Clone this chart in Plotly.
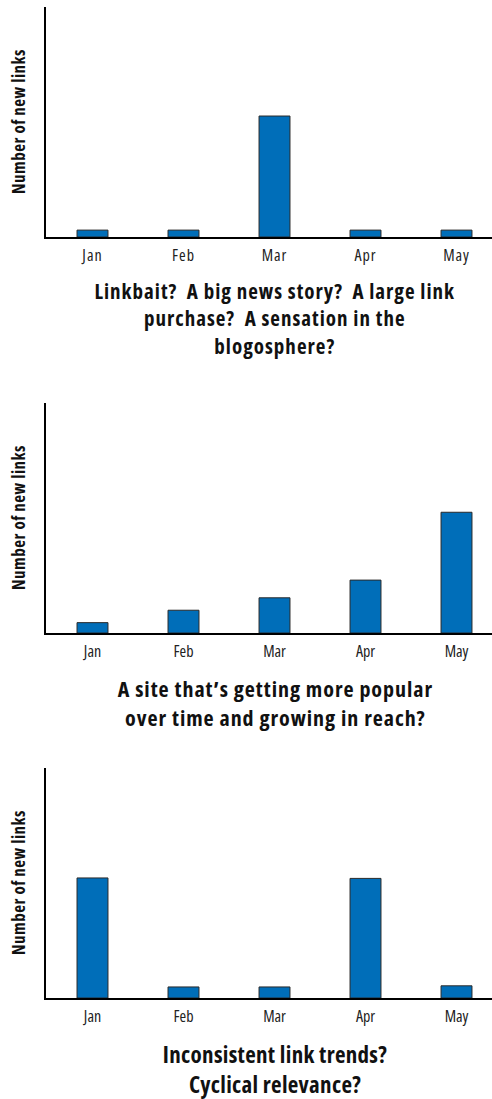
import plotly.graph_objects as go

months = ["Jan", "Feb", "Mar", "Apr", "May"]
links_spike = [3.0, 3.0, 52.6, 3.0, 3.0]
links_growth = [4.5, 9.9, 15.3, 23.0, 52.5]
links_cyclical = [52.2, 4.8, 4.8, 52.0, 5.3]

caption_spike = ["Linkbait?  A big news story?  A large link",
                 "purchase?  A sensation in the",
                 "blogosphere?"]
caption_growth = ["A site that\u2019s getting more popular",
                  "over time and growing in reach?"]
caption_cyclical = ["Inconsistent link trends?",
                    "Cyclical relevance?"]
y_title = "Number of new links"

W, H = 492, 1099
FONT = "Open Sans, Roboto, sans-serif"
BLUE = "#006EB9"

# pixel geometry (top, bottom) of each plotting area
panels = [(7, 237), (403, 633), (768, 998)]
series = [links_spike, links_growth, links_cyclical]
captions = [caption_spike, caption_growth, caption_cyclical]
caption_mid_baseline = [326.7, 710.85, 1078.3]
caption_sizes = [21, 22, 23]
caption_spacing = [1.0, 0.95, 0.3]


def py(pix):
    return (H - pix) / H


fig = go.Figure()
layout = dict(
    width=W, height=H,
    margin=dict(l=0, r=0, t=0, b=0),
    paper_bgcolor="white", plot_bgcolor="white",
    showlegend=False,
    annotations=[],
)

css = ["body{margin:0;}", ".main-svg text{font-stretch:75%;}",
       ".xtick text{letter-spacing:1px;}"]

x_dom = [46 / W, 1.0]
for i, (vals, (top, bot)) in enumerate(zip(series, panels)):
    n = "" if i == 0 else str(i + 1)
    fig.add_trace(go.Bar(
        x=list(range(len(months))), y=vals,
        width=0.34,
        marker=dict(color=BLUE, line=dict(color="#2a2a2a", width=1)),
        xaxis="x" + n, yaxis="y" + n,
        hoverinfo="skip",
    ))
    layout["xaxis" + n] = dict(
        domain=x_dom, anchor="y" + n,
        range=[-0.511, 4.39],
        tickmode="array", tickvals=list(range(len(months))), ticktext=months,
        showline=True, linecolor="black", linewidth=2,
        showgrid=False, zeroline=False, ticks="",
        tickfont=dict(family=FONT, size=16, color="#222"),
        ticklabelstandoff=3,
        fixedrange=True,
    )
    layout["yaxis" + n] = dict(
        domain=[py(bot), py(top)], anchor="x" + n,
        range=[0, 100],
        showline=True, linecolor="black", linewidth=2,
        showgrid=False, zeroline=False, ticks="", showticklabels=False,
        fixedrange=True,
    )
    idx = len(layout["annotations"])
    layout["annotations"].append(dict(
        text=y_title, textangle=-90,
        xref="paper", yref="paper",
        x=18 / W, y=py((top + bot) / 2),
        xanchor="center", yanchor="middle", showarrow=False,
        font=dict(family=FONT, size=17, color="#111", weight="bold"),
    ))
    css.append('.annotation[data-index="%d"] text{letter-spacing:0.5px;}' % idx)
    size = caption_sizes[i]
    idx = len(layout["annotations"])
    layout["annotations"].append(dict(
        text="<br>".join(captions[i]),
        xref="paper", yref="paper",
        x=275 / W, y=py(caption_mid_baseline[i] - 0.388 * size),
        xanchor="center", yanchor="middle", showarrow=False, align="center",
        font=dict(family=FONT, size=size, color="#111", weight="bold"),
    ))
    css.append('.annotation[data-index="%d"] text{letter-spacing:%.2fpx;}'
               % (idx, caption_spacing[i]))

fig.update_layout(**layout)
js = ("var s=document.createElement('style');s.textContent=%r;"
      "document.head.appendChild(s);" % " ".join(css))
fig.write_html("out.html", config=dict(displayModeBar=False), post_script=js)
